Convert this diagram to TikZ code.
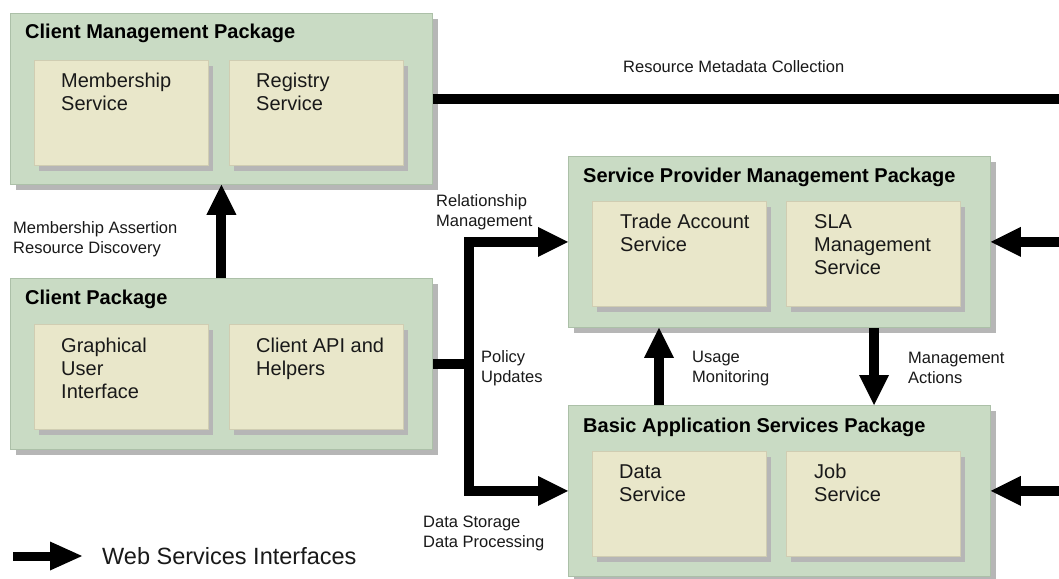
\documentclass[tikz,border=0pt]{standalone}
\usepackage{fontspec}
\setmainfont{Liberation Sans}
\usetikzlibrary{arrows.meta,shadows,calc}
\definecolor{pkgfill}{RGB}{201,219,196}
\definecolor{pkgdraw}{RGB}{172,192,168}
\definecolor{svcfill}{RGB}{233,231,202}
\definecolor{svcdraw}{RGB}{208,205,178}
\definecolor{shadowc}{RGB}{182,182,182}
\definecolor{txt}{RGB}{25,25,25}
\begin{document}
\begin{tikzpicture}[x=1pt,y=-1pt,
  pkg/.style={draw=pkgdraw, fill=pkgfill, line width=0.8pt, minimum width=422pt, minimum height=171pt,
    anchor=north west, inner sep=0pt,
    drop shadow={shadow xshift=6pt, shadow yshift=-6pt, fill=shadowc, opacity=1}},
  svc/.style={draw=svcdraw, fill=svcfill, line width=0.8pt, minimum width=174pt, minimum height=105pt,
    anchor=north west, inner sep=0pt,
    drop shadow={shadow xshift=5pt, shadow yshift=-6pt, fill=shadowc, opacity=1}},
  ttl/.style={anchor=base west, inner sep=0pt, font=\bfseries\fontsize{20}{24}\selectfont, text=black},
  svct/.style={anchor=base west, inner sep=0pt, align=left, font=\fontsize{20}{23}\selectfont, text=txt},
  lbl/.style={anchor=base west, inner sep=0pt, align=left, font=\fontsize{16.5}{20}\selectfont, text=txt},
  wline/.style={line width=10pt, line join=miter},
  warrow/.style={line width=10pt, line join=miter, -{Triangle[width=30pt,length=30pt,line width=0pt]}},
]
\useasboundingbox (0,0) rectangle (1059,578);
\fill[white] (0,0) rectangle (1059,578);

% packages and services
\node[pkg] (cmp) at (10,13) {};
\node[svc] (ms) at (34,60) {};
\node[svc] (rs) at (229,60) {};
\node[pkg] (cp) at (10,278) {};
\node[svc] (gui) at (34,324) {};
\node[svc] (api) at (229,324) {};
\node[pkg] (spmp) at (568,156) {};
\node[svc] (tas) at (592,201) {};
\node[svc] (sla) at (786,201) {};
\node[pkg] (basp) at (568,405) {};
\node[svc] (ds) at (592,451) {};
\node[svc] (js) at (786,451) {};

% titles
\node[ttl] (cmpT) at (25,39) {Client Management Package};
\node[ttl] (cpT) at (25,304) {Client Package};
\node[ttl] (spmpT) at (583,182) {Service Provider Management Package};
\node[ttl] (baspT) at (583,432) {Basic Application Services Package};

% service texts (anchored at the baseline of the last line)
\node[svct] (msT) at (61,110) {Membership\\Service};
\node[svct] (rsT) at (256,110) {Registry\\Service};
\node[svct] (guiT) at (61,398) {Graphical\\User\\Interface};
\node[svct] (apiT) at (256,375) {Client API and\\Helpers};
\node[svct] (tasT) at (620,251) {Trade Account\\Service};
\node[svct] (slaT) at (814,274) {SLA\\Management\\Service};
\node[svct] (dsT) at (619,501) {Data\\Service};
\node[svct] (jsT) at (814,501) {Job\\Service};

% connector labels (anchored at the baseline of the last line)
\node[lbl] (rmc) at (623,72) {Resource Metadata Collection};
\node[lbl] (mar) at (13,253) {Membership Assertion\\Resource Discovery};
\node[lbl] (rm) at (436,226) {Relationship\\Management};
\node[lbl] (pu) at (481,382) {Policy\\Updates};
\node[lbl] (umo) at (692,382) {Usage\\Monitoring};
\node[lbl] (mac) at (908,383) {Management\\Actions};
\node[lbl] (dsp) at (423,547) {Data Storage\\Data Processing};

% coordinates
\coordinate (jx) at ($(cp.east)+(36,0)$);
\coordinate (um) at (659,0);
\coordinate (ma) at (874,0);
\coordinate (re) at (1059,0);

% connectors
\draw[warrow] (cp.north) -- (cmp.south);
\draw[wline] (cmp.east) -- (cmp.east -| re);
\draw[wline] (cp.east) -- (jx);
\draw[warrow] (jx) |- (spmp.west);
\draw[warrow] (jx) |- (basp.west);
\draw[warrow] (basp.north -| um) -- (spmp.south -| um);
\draw[warrow] (spmp.south -| ma) -- (basp.north -| ma);
\draw[warrow] (spmp.east -| re) -- (spmp.east);
\draw[warrow] (basp.east -| re) -- (basp.east);

% legend
\coordinate (la) at (13,556);
\coordinate (lb) at (82,556);
\draw[line width=9pt, -{Triangle[width=29pt,length=32pt,line width=0pt]}] (la) -- (lb);
\node[anchor=base west, inner sep=0pt, font=\fontsize{23.5}{28}\selectfont, text=txt] (leg) at (102,564) {Web Services Interfaces};
\end{tikzpicture}
\end{document}
